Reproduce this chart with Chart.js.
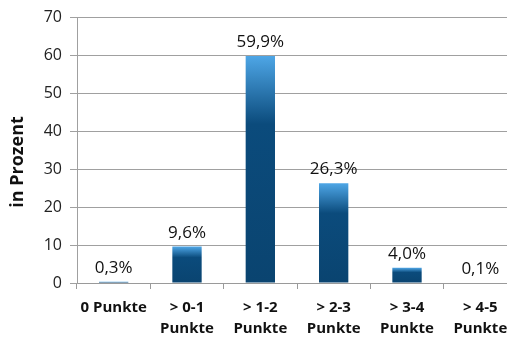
<!DOCTYPE html>
<html>
<head>
<meta charset="utf-8">
<script src="https://cdn.jsdelivr.net/npm/chart.js@4/dist/chart.umd.min.js"></script>
<style>
  html, body { margin: 0; padding: 0; background: #fff; overflow: hidden; }
  #wrap { width: 517px; height: 338px; }
</style>
</head>
<body>
<div id="wrap"><canvas id="c" width="517" height="338"></canvas></div>
<script>
const categories = [["0 Punkte"], ["> 0-1", "Punkte"], ["> 1-2", "Punkte"], ["> 2-3", "Punkte"], ["> 3-4", "Punkte"], ["> 4-5", "Punkte"]];
const percentValues = [0.3, 9.6, 59.9, 26.3, 4.0, 0.1];
const yTicks = [0, 10, 20, 30, 40, 50, 60, 70];
const axisTitle = "in Prozent";

const FONT = "'Open Sans', 'DejaVu Sans', sans-serif";

// Each bar gets its own vertical gradient: light blue cap fading into navy.
function barGradient(ctx) {
  const chart = ctx.chart;
  const area = chart.chartArea;
  if (!area || ctx.dataIndex === undefined) return '#0b4a7a';
  const y = chart.scales.y;
  const top = y.getPixelForValue(percentValues[ctx.dataIndex]);
  const base = y.getPixelForValue(0);
  const g = chart.ctx.createLinearGradient(0, top, 0, Math.max(base, top + 1));
  g.addColorStop(0, '#4ea6e6');
  g.addColorStop(0.3, '#0b4b7c');
  g.addColorStop(1, '#0a4470');
  return g;
}

const valueLabels = {
  id: 'valueLabels',
  afterDatasetsDraw(chart) {
    const c = chart.ctx;
    const meta = chart.getDatasetMeta(0);
    c.save();
    c.font = "17px " + FONT;
    c.fillStyle = '#111';
    c.textAlign = 'center';
    c.textBaseline = 'alphabetic';
    meta.data.forEach((bar, i) => {
      const txt = percentValues[i].toFixed(1).replace('.', ',') + '%';
      c.fillText(txt, bar.x, bar.y - 9);
    });
    c.restore();
  }
};

const sideTitle = {
  id: 'sideTitle',
  afterDraw(chart) {
    const c = chart.ctx;
    c.save();
    c.translate(18, 162);
    c.rotate(-Math.PI / 2);
    c.font = "bold 18px " + FONT;
    c.fillStyle = '#111';
    c.textAlign = 'center';
    c.textBaseline = 'middle';
    c.fillText(axisTitle, 0, 0);
    c.restore();
  }
};

new Chart(document.getElementById('c'), {
  type: 'bar',
  data: {
    labels: categories,
    datasets: [{
      data: percentValues,
      backgroundColor: barGradient,
      borderWidth: 0,
      barPercentage: 0.4,
      categoryPercentage: 1.0
    }]
  },
  options: {
    responsive: false,
    animation: false,
    events: [],
    layout: { padding: { top: 16, left: 0, right: 0, bottom: 0 } },
    plugins: { legend: { display: false }, tooltip: { enabled: false } },
    scales: {
      x: {
        grid: {
          offset: true,
          drawOnChartArea: false,
          tickLength: 6,
          color: '#9a9a9a',
          lineWidth: 1
        },
        border: { color: '#9a9a9a', width: 1 },
        ticks: {
          color: '#111',
          font: { family: FONT, size: 15, weight: 'bold', lineHeight: 1.4 },
          padding: 8,
          maxRotation: 0,
          autoSkip: false
        },
        afterFit(s) { s.height = 55; }
      },
      y: {
        min: 0,
        max: 70,
        afterBuildTicks(s) { s.ticks = yTicks.map(v => ({ value: v })); },
        grid: { color: '#a0a0a0', lineWidth: 1, tickLength: 7 },
        border: { color: '#a0a0a0', width: 1 },
        ticks: {
          color: '#222',
          font: { family: FONT, size: 16 },
          padding: 8
        },
        afterFit(s) { s.width = 77; }
      }
    }
  },
  plugins: [valueLabels, sideTitle]
});
</script>
</body>
</html>
